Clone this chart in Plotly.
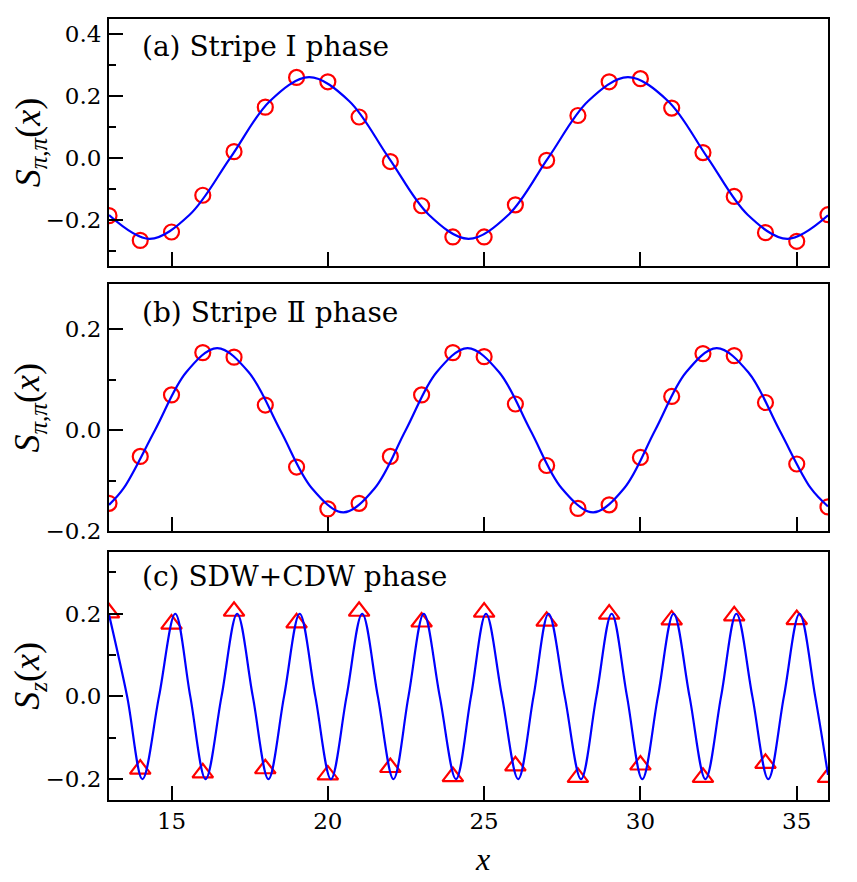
import plotly.graph_objects as go

# ---------------- data ----------------
x_sites = list(range(13, 37))

# (a) Stripe I phase: S_{pi,pi}(x) points
s_a = [-0.187, -0.267, -0.240, -0.121, 0.020, 0.164, 0.260, 0.246, 0.132, -0.012,
       -0.155, -0.256, -0.256, -0.152, -0.008, 0.137, 0.246, 0.256, 0.161, 0.017,
       -0.125, -0.242, -0.270, -0.184]
# (a) fitted curve, read at extrema / zero crossings / half-way points
curve_a_x = [13.0, 14.3, 15.58, 16.88, 18.15, 19.4, 20.68, 21.95, 23.23, 24.5,
             25.78, 27.05, 28.33, 29.6, 30.88, 32.15, 33.43, 34.7, 36.0]
curve_a_y = [-0.185, -0.262, -0.184, 0.0, 0.184, 0.261, 0.184, 0.0, -0.184, -0.262,
             -0.184, 0.0, 0.184, 0.261, 0.184, 0.0, -0.184, -0.262, -0.186]

# (b) Stripe II phase
s_b = [-0.145, -0.052, 0.070, 0.154, 0.145, 0.050, -0.073, -0.156, -0.145, -0.052,
       0.070, 0.154, 0.146, 0.052, -0.070, -0.155, -0.148, -0.054, 0.067, 0.152,
       0.148, 0.055, -0.067, -0.152]
curve_b_x = [13.0, 13.47, 14.47, 15.47, 16.46, 17.47, 18.48, 19.49, 20.5, 21.5,
             22.49, 23.48, 24.47, 25.48, 26.48, 27.48, 28.49, 29.48, 30.47, 31.46,
             32.44, 33.45, 34.45, 35.45, 36.0]
curve_b_y = [-0.148, -0.115, 0.0, 0.115, 0.163, 0.115, 0.0, -0.115, -0.163, -0.115,
             0.0, 0.115, 0.163, 0.115, 0.0, -0.115, -0.163, -0.115, 0.0, 0.115,
             0.163, 0.115, 0.0, -0.115, -0.151]

# (c) SDW+CDW phase: S_z(x)
s_c = [0.202, -0.176, 0.175, -0.185, 0.206, -0.175, 0.178, -0.190, 0.206, -0.172,
       0.180, -0.194, 0.204, -0.168, 0.182, -0.196, 0.199, -0.166, 0.185, -0.196,
       0.195, -0.162, 0.186, -0.196]
curve_c_x = [13.0, 13.58, 14.07, 14.6, 15.12, 15.6, 16.09, 16.6, 17.1, 17.6,
             18.1, 18.6, 19.1, 19.6, 20.1, 20.6, 21.1, 21.6, 22.1, 22.58,
             23.07, 23.58, 24.1, 24.58, 25.06, 25.57, 26.09, 26.58, 27.06, 27.58,
             28.1, 28.59, 29.08, 29.57, 30.06, 30.56, 31.06, 31.57, 32.08, 32.58,
             33.07, 33.58, 34.09, 34.59, 35.09, 35.59, 36.0]
curve_c_y = [0.198, 0.0, -0.2, 0.0, 0.2, 0.0, -0.2, 0.0, 0.2, 0.0,
             -0.2, 0.0, 0.2, 0.0, -0.2, 0.0, 0.2, 0.0, -0.2, 0.0,
             0.2, 0.0, -0.2, 0.0, 0.2, 0.0, -0.2, 0.0, 0.2, 0.0,
             -0.2, 0.0, 0.2, 0.0, -0.2, 0.0, 0.2, 0.0, -0.2, 0.0,
             0.2, 0.0, -0.2, 0.0, 0.2, 0.0, -0.19]

panel_labels = ["(a) Stripe I phase", "(b) Stripe Ⅱ phase", "(c) SDW+CDW phase"]
y_titles = ["<i>S</i><sub><i>π</i>,<i>π</i></sub>(<i>x</i>)",
            "<i>S</i><sub><i>π</i>,<i>π</i></sub>(<i>x</i>)",
            "<i>S</i><sub><i>z</i></sub>(<i>x</i>)"]
x_title = "<i>x</i>"
y_ranges = [[-0.35, 0.45], [-0.2, 0.29], [-0.25, 0.35]]
x_range = [13, 36]
x_ticks = [15, 20, 25, 30, 35]

# ---------------- layout geometry ----------------
W, H = 857, 882
FONT = "DejaVu Serif"
MATH_FONT = "Liberation Serif"
x_dom = [109 / W, 828 / W]
panel_px = [(19, 270), (288.3, 539), (560, 811.7)]
y_doms = [[1 - b / H, 1 - t / H] for (t, b) in panel_px]

RED = "#ff0000"
BLUE = "#0000ff"

fig = go.Figure()
series = [(s_a, curve_a_x, curve_a_y, "circle-open", 15),
          (s_b, curve_b_x, curve_b_y, "circle-open", 15),
          (s_c, curve_c_x, curve_c_y, "triangle-up-open", 18)]
for i, (pts, cx, cy, sym, sz) in enumerate(series):
    ax = "" if i == 0 else str(i + 1)
    fig.add_trace(go.Scatter(x=x_sites, y=pts, mode="markers",
                             marker=dict(symbol=sym, size=sz, color=RED,
                                         line=dict(color=RED, width=2.2)),
                             xaxis="x" + ax, yaxis="y" + ax, showlegend=False))
    fig.add_trace(go.Scatter(x=cx, y=cy, mode="lines",
                             line=dict(color=BLUE, width=2.2, shape="spline", smoothing=1.0),
                             xaxis="x" + ax, yaxis="y" + ax, showlegend=False))

layout = dict(width=W, height=H, margin=dict(l=0, r=0, t=0, b=0),
              paper_bgcolor="white", plot_bgcolor="white",
              font=dict(family=FONT, size=23, color="black"))
for i in range(3):
    ax = "" if i == 0 else str(i + 1)
    layout["xaxis" + ax] = dict(
        domain=x_dom, anchor="y" + ax, range=x_range, tickvals=x_ticks,
        showticklabels=(i == 2), ticks="inside", ticklen=14, tickwidth=1.8,
        tickcolor="black", showline=True, linecolor="black", linewidth=2,
        mirror=True, showgrid=False, zeroline=False,
        tickfont=dict(family=FONT, size=23, color="black"))
    layout["yaxis" + ax] = dict(
        domain=y_doms[i], anchor="x" + ax, range=y_ranges[i], dtick=0.2, tick0=0,
        tickformat=".1f", ticks="inside", ticklen=14, tickwidth=1.8,
        tickcolor="black", showline=True, linecolor="black", linewidth=2,
        mirror=True, showgrid=False, zeroline=False,
        minor=dict(dtick=0.1, tick0=0, ticks="inside", ticklen=7, tickwidth=1.5,
                   tickcolor="black", showgrid=False),
        tickfont=dict(family=FONT, size=23, color="black"), ticklabelstandoff=1)
fig.update_layout(**layout)

# panel labels
label_y_px = [47, 317, 585]
for i in range(3):
    fig.add_annotation(x=140 / W, y=1 - label_y_px[i] / H, xref="paper", yref="paper",
                       text=panel_labels[i], showarrow=False, xanchor="left",
                       yanchor="middle", font=dict(family=FONT, size=28, color="black"))
# y titles
for i in range(3):
    t, b = panel_px[i]
    fig.add_annotation(x=30 / W, y=1 - (t + b) / 2 / H, xref="paper", yref="paper",
                       text=y_titles[i], showarrow=False, textangle=-90,
                       xanchor="center", yanchor="middle",
                       font=dict(family=MATH_FONT, size=36, color="black"))
# x title
fig.add_annotation(x=482 / W, y=1 - 872 / H, xref="paper", yref="paper",
                   text=x_title, showarrow=False, xanchor="center", yanchor="middle",
                   font=dict(family=MATH_FONT, size=32, color="black"))

fig.write_html("out.html")
